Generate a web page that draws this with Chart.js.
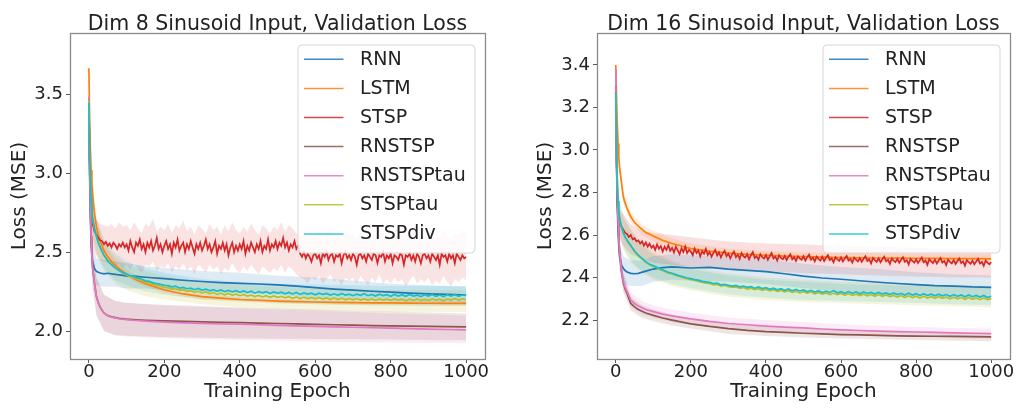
<!DOCTYPE html>
<html><head><meta charset="utf-8">
<script src="https://cdn.jsdelivr.net/npm/chart.js@4/dist/chart.umd.min.js"></script>
<style>
html,body{margin:0;padding:0;background:#fff;}
#wrap{position:relative;width:1017px;height:408px;overflow:hidden;}
.pane{position:absolute;top:0;height:408px;}
</style>
</head><body>
<div id="wrap">
<div class="pane" style="left:0;width:508px"><canvas id="c1" width="508" height="408"></canvas></div>
<div class="pane" style="left:508px;width:509px"><canvas id="c2" width="509" height="408"></canvas></div>
</div>
<script>
// ---------------- shared ----------------
const seriesNames = ['RNN','LSTM','STSP','RNSTSP','RNSTSPtau','STSPtau','STSPdiv'];
const seriesColors = ['31,119,180','255,127,14','214,39,40','140,86,75','227,119,194','188,189,34','23,190,207'];
const xTicks = [0,200,400,600,800,1000];
const yTicks8 = [2.0,2.5,3.0,3.5];
const yTicks16 = [2.2,2.4,2.6,2.8,3.0,3.2,3.4];

const epochsCoarse = [0,2,4,6,8,10,15,20,25,30,40,50,60,80,100,125,150,200,250,300,350,400,450,500,550,600,650,700,750,800,850,900,950,1000];
const epochsFine = [0,2,4,6,8,10,15,20,25,30,40,50,60,70,80,90,100,110,120,130,140,150,160,170,180,190,200,210,220,230,240,250,260,270,280,290,300,310,320,330,340,350,360,370,380,390,400,410,420,430,440,450,460,470,480,490,500,510,520,530,540,550,560,570,580,590,600,610,620,630,640,650,660,670,680,690,700,710,720,730,740,750,760,770,780,790,800,810,820,830,840,850,860,870,880,890,900,910,920,930,940,950,960,970,980,990,1000];
const epochsDense = [0,2,4,6,8,10,15,20,25,30,35,40,45,50,55,60,65,70,75,80,85,90,95,
100,105,110,115,120,125,130,135,140,145,150,155,160,165,170,175,180,185,190,195,
200,205,210,215,220,225,230,235,240,245,250,255,260,265,270,275,280,285,290,295,
300,305,310,315,320,325,330,335,340,345,350,355,360,365,370,375,380,385,390,395,
400,405,410,415,420,425,430,435,440,445,450,455,460,465,470,475,480,485,490,495,
500,505,510,515,520,525,530,535,540,545,550,555,560,565,570,575,580,585,590,595,
600,605,610,615,620,625,630,635,640,645,650,655,660,665,670,675,680,685,690,695,
700,705,710,715,720,725,730,735,740,745,750,755,760,765,770,775,780,785,790,795,
800,805,810,815,820,825,830,835,840,845,850,855,860,865,870,875,880,885,890,895,
900,905,910,915,920,925,930,935,940,945,950,955,960,965,970,975,980,985,990,995,1000];
const bandEpochs = [0,2,5,10,20,40,70,100,150,200,300,400,500,600,700,800,900,1000];

// ---------------- Dim 8 ----------------
const d8_RNN = [3.45,2.98,2.72,2.57,2.48,2.44,2.395,2.378,2.372,2.368,2.362,2.366,2.362,2.356,2.35,2.346,2.341,2.332,2.322,2.314,2.307,2.302,2.298,2.292,2.284,2.275,2.266,2.259,2.252,2.246,2.240,2.236,2.232,2.228];
const d8_LSTM = [3.665,3.35,3.15,3.02,2.93,2.87,2.74,2.66,2.61,2.57,2.51,2.47,2.44,2.395,2.36,2.325,2.30,2.26,2.235,2.218,2.208,2.20,2.195,2.19,2.187,2.184,2.182,2.18,2.179,2.178,2.177,2.176,2.175,2.175];
const d8_STSP = [3.47,3.1,2.9,2.78,2.72,2.68,2.63,2.61,
 2.59,2.575,2.57,2.55,2.565,2.54,2.555,2.53,2.56,2.545,2.52,2.55,2.535,2.56,2.53,
 2.55,2.51,2.57,2.53,2.50,2.56,2.54,2.58,2.52,2.55,
 2.50,2.56,2.53,2.57,2.51,2.54,2.59,2.52,2.55,2.50,
 2.54,2.57,2.52,2.55,2.49,2.56,2.53,2.58,2.51,2.54,
 2.56,2.50,2.55,2.52,2.57,2.53,2.49,2.55,2.52,2.56,
 2.51,2.54,2.58,2.52,2.55,2.50,2.53,2.57,2.49,2.54,
 2.52,2.56,2.51,2.55,2.48,2.53,2.56,2.50,2.54,2.51,
 2.55,2.52,2.57,2.49,2.54,2.51,2.56,2.53,2.50,2.55,
 2.52,2.57,2.50,2.54,2.52,2.58,2.51,2.55,2.53,2.57,
 2.52,2.56,2.54,2.59,2.53,2.56,2.51,2.55,2.53,2.57,
 2.52,2.54,2.49,2.47,2.50,2.46,2.49,2.47,2.44,2.48,
 2.49,2.46,2.48,2.43,2.49,2.47,2.50,2.45,2.48,2.49,
 2.44,2.48,2.47,2.49,2.43,2.48,2.50,2.46,2.48,2.45,
 2.49,2.47,2.42,2.48,2.49,2.46,2.48,2.44,2.49,2.47,
 2.45,2.49,2.48,2.43,2.48,2.47,2.50,2.44,2.48,2.46,
 2.49,2.43,2.48,2.47,2.45,2.49,2.48,2.42,2.48,2.47,
 2.49,2.45,2.48,2.44,2.49,2.47,2.43,2.48,2.49,2.46,
 2.48,2.44,2.49,2.47,2.45,2.48,2.42,2.49,2.47,2.48,
 2.44,2.49,2.46,2.48,2.43,2.49,2.47,2.45,2.48,2.46,
 2.47];
const d8_RNSTSP = [3.46,3.05,2.78,2.6,2.48,2.40,2.30,2.22,2.18,2.15,2.115,2.098,2.09,2.08,2.075,2.071,2.068,2.064,2.061,2.058,2.055,2.053,2.05,2.048,2.045,2.042,2.04,2.038,2.035,2.033,2.031,2.03,2.028,2.026];
const d8_RNSTSPtau = [3.485,3.05,2.78,2.6,2.48,2.40,2.30,2.22,2.18,2.15,2.115,2.097,2.088,2.078,2.072,2.067,2.063,2.057,2.052,2.049,2.046,2.044,2.04,2.036,2.033,2.03,2.027,2.024,2.021,2.018,2.015,2.012,2.01,2.008];
const d8_STSPtau = [3.46,3.15,2.96,2.84,2.76,2.71,2.65,2.6,2.56,2.53,2.48,2.445,2.42,2.40,2.383,2.367,
 2.356,2.345,2.338,2.328,2.32,2.31,2.305,2.296,2.29,2.284,
 2.278,2.275,2.266,2.27,2.258,2.262,2.252,2.256,2.246,2.252,
 2.242,2.248,2.238,2.244,2.232,2.24,2.23,2.238,2.228,2.234,
 2.224,2.232,2.222,2.228,2.218,2.226,2.216,2.224,2.214,2.222,
 2.214,2.22,2.21,2.218,2.208,2.216,2.206,2.214,2.206,2.212,
 2.204,2.212,2.202,2.21,2.2,2.21,2.2,2.208,2.198,2.206,
 2.198,2.206,2.196,2.204,2.196,2.204,2.194,2.204,2.196,2.202,
 2.194,2.204,2.196,2.202,2.192,2.202,2.194,2.204,2.194,2.2,
 2.194,2.204,2.196,2.202,2.192,2.204,2.196,2.206,2.196,2.204,
 2.2];
const d8_STSPdiv = [3.445,3.15,2.96,2.84,2.76,2.71,2.65,2.6,2.56,2.53,2.48,2.445,2.42,2.40,2.385,2.37,
 2.362,2.35,2.345,2.335,2.33,2.318,2.315,2.305,2.30,2.296,
 2.29,2.288,2.28,2.285,2.272,2.276,2.268,2.272,2.262,2.27,
 2.26,2.266,2.255,2.262,2.252,2.26,2.25,2.258,2.248,2.256,
 2.246,2.254,2.244,2.252,2.24,2.25,2.242,2.25,2.238,2.248,
 2.24,2.246,2.236,2.245,2.235,2.244,2.232,2.242,2.234,2.24,
 2.23,2.24,2.232,2.238,2.228,2.236,2.226,2.238,2.228,2.234,
 2.224,2.234,2.226,2.236,2.224,2.232,2.222,2.234,2.224,2.23,
 2.22,2.232,2.222,2.23,2.22,2.232,2.222,2.228,2.218,2.23,
 2.222,2.232,2.22,2.228,2.218,2.23,2.222,2.232,2.22,2.228,
 2.226];
// bands (lower / upper)
const d8_RNN_lo = [3.3,2.85,2.55,2.35,2.29,2.28,2.28,2.27,2.27,2.26,2.25,2.24,2.23,2.21,2.2,2.19,2.18,2.18];
const d8_RNN_hi = [3.6,3.15,2.8,2.55,2.46,2.45,2.44,2.43,2.41,2.4,2.38,2.37,2.35,2.34,2.32,2.3,2.29,2.28];
const d8_LSTM_lo = [3.55,3.25,3.0,2.8,2.62,2.48,2.39,2.34,2.28,2.24,2.2,2.185,2.175,2.17,2.165,2.163,2.16,2.16];
const d8_LSTM_hi = [3.78,3.45,3.17,2.95,2.72,2.55,2.45,2.39,2.32,2.28,2.24,2.215,2.205,2.2,2.195,2.193,2.19,2.19];
const d8_STSP_lo = [3.2,2.9,2.75,2.65,2.58,2.54,2.5,2.48,2.46,2.45,2.44,2.43,2.42,2.41,2.43,2.40,
 2.42,2.39,2.43,2.40,2.37,2.42,2.41,2.44,2.38,2.41,
 2.40,2.43,2.37,2.41,2.39,2.43,2.38,2.41,2.36,2.42,
 2.40,2.37,2.42,2.39,2.41,2.36,2.40,2.38,2.43,2.39,
 2.37,2.41,2.38,2.42,2.39,2.36,2.41,2.39,2.37,2.40,
 2.38,2.42,2.37,2.41,2.39,2.36,2.34,2.33,2.30,2.34,
 2.32,2.35,2.30,2.33,2.36,2.31,2.33,2.29,2.34,2.32,
 2.34,2.30,2.35,2.32,2.29,2.34,2.31,2.36,2.30,2.33,
 2.30,2.34,2.31,2.33,2.28,2.32,2.35,2.30,2.33,2.31,
 2.34,2.29,2.32,2.30,2.35,2.31,2.28,2.33,2.31,2.34,
 2.32];
const d8_STSP_hi = [3.8,3.3,3.05,2.92,2.85,2.8,2.74,2.7,2.69,2.68,2.67,2.66,2.68,2.65,2.69,2.66,
 2.67,2.64,2.69,2.65,2.62,2.68,2.66,2.71,2.63,2.66,
 2.64,2.68,2.62,2.67,2.65,2.70,2.63,2.66,2.61,2.67,
 2.65,2.62,2.68,2.64,2.66,2.61,2.67,2.63,2.69,2.64,
 2.62,2.66,2.63,2.68,2.64,2.61,2.67,2.65,2.62,2.66,
 2.64,2.69,2.63,2.67,2.65,2.62,2.60,2.63,2.59,2.62,
 2.60,2.64,2.58,2.62,2.65,2.59,2.61,2.57,2.63,2.60,
 2.62,2.58,2.64,2.60,2.57,2.62,2.60,2.65,2.59,2.61,
 2.58,2.63,2.60,2.62,2.57,2.61,2.64,2.59,2.62,2.60,
 2.63,2.58,2.61,2.59,2.64,2.60,2.57,2.62,2.60,2.63,
 2.61];
const d8_RNSTSP_lo = [3.3,2.9,2.5,2.28,2.1,2.0,1.975,1.97,1.965,1.962,1.958,1.955,1.952,1.95,1.948,1.946,1.944,1.942];
const d8_RNSTSP_hi = [3.6,3.2,2.88,2.52,2.34,2.23,2.19,2.18,2.172,2.166,2.158,2.15,2.143,2.136,2.13,2.124,2.118,2.112];
const d8_RNSTSPtau_lo = [3.33,2.9,2.5,2.28,2.1,2.0,1.972,1.966,1.96,1.955,1.948,1.943,1.938,1.934,1.93,1.927,1.924,1.922];
const d8_RNSTSPtau_hi = [3.62,3.2,2.88,2.52,2.34,2.23,2.19,2.178,2.17,2.162,2.152,2.144,2.136,2.128,2.12,2.112,2.105,2.098];
const d8_STSPtau_lo = [3.3,2.98,2.72,2.58,2.48,2.38,2.3,2.26,2.22,2.2,2.17,2.15,2.14,2.13,2.13,2.12,2.12,2.12];
const d8_STSPtau_hi = [3.6,3.3,3.0,2.8,2.7,2.56,2.47,2.42,2.38,2.35,2.31,2.29,2.28,2.27,2.27,2.26,2.26,2.26];
const d8_STSPdiv_lo = [3.3,2.98,2.72,2.6,2.5,2.4,2.32,2.29,2.25,2.23,2.2,2.19,2.18,2.17,2.165,2.16,2.16,2.16];
const d8_STSPdiv_hi = [3.6,3.3,3.0,2.82,2.72,2.58,2.49,2.44,2.4,2.37,2.33,2.31,2.3,2.295,2.29,2.285,2.285,2.285];

// ---------------- Dim 16 ----------------
const d16_RNN = [3.27,2.95,2.74,2.62,2.55,2.50,2.46,2.443,2.433,2.426,2.42,2.418,2.42,2.43,2.44,2.447,2.45,2.445,2.448,2.44,2.434,2.428,2.418,2.407,2.398,2.392,2.385,2.378,2.372,2.367,2.362,2.36,2.356,2.354];
const d16_LSTM = [3.40,3.25,3.12,3.03,2.97,2.92,2.85,2.78,2.75,2.725,2.686,2.66,2.642,2.612,2.595,2.575,2.56,2.536,2.524,2.515,2.509,2.505,2.501,2.498,2.496,2.494,2.493,2.492,2.491,2.49,2.49,2.489,2.489,2.488];
const d16_STSP = [3.3,2.95,2.76,2.7,2.67,2.655,2.64,2.625,
 2.61,2.605,2.59,2.6,2.58,2.585,2.57,2.575,2.56,2.57,2.55,2.565,2.545,2.56,2.54,
 2.55,2.53,2.556,2.535,2.548,2.522,2.545,2.53,2.552,2.526,
 2.54,2.518,2.545,2.528,2.51,2.538,2.52,2.546,2.515,2.53,
 2.522,2.505,2.536,2.515,2.528,2.5,2.524,2.512,2.535,2.506,
 2.52,2.498,2.516,2.53,2.504,2.518,2.495,2.514,2.526,2.5,
 2.512,2.49,2.51,2.522,2.496,2.508,2.488,2.515,2.5,2.494,
 2.51,2.486,2.505,2.52,2.492,2.5,2.484,2.51,2.496,2.49,
 2.506,2.484,2.5,2.515,2.49,2.498,2.48,2.505,2.492,2.486,
 2.502,2.482,2.498,2.51,2.486,2.496,2.478,2.5,2.49,2.484,
 2.5,2.48,2.496,2.508,2.484,2.494,2.476,2.498,2.488,2.48,
 2.498,2.478,2.494,2.505,2.482,2.49,2.472,2.496,2.486,2.478,
 2.495,2.476,2.49,2.502,2.48,2.488,2.47,2.494,2.484,2.476,
 2.492,2.474,2.488,2.5,2.478,2.486,2.466,2.492,2.482,2.474,
 2.49,2.472,2.486,2.498,2.476,2.484,2.464,2.49,2.48,2.472,
 2.488,2.47,2.484,2.496,2.474,2.482,2.462,2.488,2.478,2.47,
 2.486,2.468,2.482,2.494,2.472,2.48,2.46,2.486,2.476,2.468,
 2.484,2.466,2.48,2.492,2.47,2.478,2.458,2.484,2.474,2.466,
 2.482,2.464,2.478,2.49,2.468,2.476,2.456,2.482,2.472,2.464,
 2.48,2.462,2.476,2.488,2.466,2.474,2.455,2.48,2.47,2.462,
 2.472];
const d16_RNSTSP = [3.27,2.98,2.78,2.66,2.58,2.52,2.43,2.375,2.345,2.325,2.278,2.262,2.25,2.233,2.222,2.21,2.2,2.182,2.17,2.16,2.152,2.146,2.142,2.138,2.135,2.132,2.13,2.128,2.126,2.125,2.124,2.123,2.122,2.121];
const d16_RNSTSPtau = [3.38,3.0,2.79,2.67,2.59,2.53,2.44,2.385,2.355,2.335,2.294,2.278,2.266,2.25,2.24,2.228,2.22,2.206,2.194,2.184,2.178,2.172,2.167,2.163,2.158,2.154,2.151,2.148,2.146,2.144,2.142,2.14,2.138,2.136];
const d16_STSPtau = [3.27,3.0,2.85,2.76,2.71,2.68,2.64,2.61,2.59,2.575,2.55,2.522,2.502,2.487,2.472,2.46,
 2.452,2.446,2.436,2.43,2.42,2.417,2.41,2.405,2.398,2.395,
 2.39,2.386,2.382,2.378,2.374,2.372,2.366,2.368,2.36,2.364,
 2.357,2.355,2.356,2.35,2.353,2.346,2.35,2.343,2.348,2.34,
 2.345,2.338,2.343,2.335,2.34,2.333,2.338,2.33,2.336,2.328,
 2.334,2.327,2.332,2.324,2.33,2.322,2.328,2.32,2.326,2.32,
 2.325,2.318,2.324,2.316,2.322,2.315,2.322,2.314,2.32,2.312,
 2.32,2.312,2.318,2.31,2.316,2.308,2.316,2.306,2.314,2.306,
 2.312,2.304,2.312,2.304,2.31,2.302,2.31,2.302,2.308,2.3,
 2.308,2.3,2.306,2.298,2.306,2.298,2.304,2.296,2.304,2.296,
 2.3];
const d16_STSPdiv = [3.27,3.0,2.85,2.76,2.71,2.68,2.64,2.61,2.59,2.575,2.55,2.525,2.505,2.49,2.475,2.462,
 2.455,2.448,2.44,2.432,2.425,2.42,2.414,2.408,2.404,2.398,
 2.395,2.39,2.388,2.382,2.38,2.377,2.372,2.374,2.366,2.368,
 2.364,2.36,2.363,2.356,2.36,2.354,2.357,2.35,2.356,2.348,
 2.352,2.345,2.35,2.342,2.348,2.34,2.346,2.338,2.344,2.337,
 2.342,2.334,2.34,2.332,2.338,2.33,2.336,2.33,2.338,2.328,
 2.334,2.326,2.334,2.326,2.332,2.324,2.332,2.325,2.33,2.322,
 2.33,2.322,2.328,2.32,2.328,2.32,2.326,2.318,2.326,2.318,
 2.324,2.316,2.324,2.316,2.322,2.314,2.322,2.314,2.32,2.312,
 2.32,2.312,2.318,2.31,2.318,2.31,2.316,2.308,2.316,2.306,
 2.312];
const d16_RNN_lo = [3.2,2.88,2.62,2.44,2.37,2.36,2.36,2.38,2.39,2.385,2.38,2.37,2.35,2.335,2.32,2.31,2.305,2.3];
const d16_RNN_hi = [3.35,3.02,2.76,2.57,2.5,2.48,2.48,2.5,2.51,2.505,2.495,2.485,2.465,2.45,2.44,2.425,2.415,2.41];
const d16_LSTM_lo = [3.35,3.2,3.03,2.88,2.75,2.66,2.6,2.57,2.535,2.515,2.495,2.485,2.48,2.476,2.474,2.472,2.47,2.47];
const d16_LSTM_hi = [3.48,3.3,3.13,2.96,2.81,2.71,2.65,2.62,2.585,2.56,2.535,2.525,2.518,2.514,2.512,2.51,2.508,2.508];
const d16_STSP_lo = [3.2,2.85,2.64,2.58,2.55,2.51,2.49,2.47,2.46,2.45,2.44,2.43,2.42,2.415,2.41,2.405,2.4,2.4];
const d16_STSP_hi = [3.45,3.05,2.82,2.72,2.7,2.65,2.62,2.61,2.6,2.59,2.57,2.56,2.555,2.55,2.545,2.54,2.54,2.535];
const d16_RNSTSP_lo = [3.2,2.9,2.66,2.46,2.33,2.245,2.21,2.195,2.175,2.16,2.135,2.125,2.118,2.113,2.11,2.106,2.103,2.1];
const d16_RNSTSP_hi = [3.33,3.05,2.8,2.58,2.42,2.31,2.27,2.25,2.225,2.205,2.18,2.17,2.16,2.153,2.15,2.146,2.143,2.14];
const d16_RNSTSPtau_lo = [3.3,2.92,2.68,2.47,2.34,2.26,2.225,2.21,2.19,2.178,2.158,2.148,2.138,2.13,2.125,2.12,2.115,2.112];
const d16_RNSTSPtau_hi = [3.46,3.08,2.82,2.59,2.43,2.33,2.29,2.27,2.25,2.234,2.212,2.2,2.19,2.18,2.173,2.168,2.163,2.16];
const d16_STSPtau_lo = [3.2,2.93,2.74,2.6,2.53,2.47,2.42,2.39,2.36,2.34,2.31,2.295,2.285,2.28,2.275,2.27,2.265,2.26];
const d16_STSPtau_hi = [3.34,3.07,2.9,2.76,2.69,2.63,2.56,2.52,2.48,2.45,2.42,2.4,2.39,2.38,2.375,2.37,2.365,2.36];
const d16_STSPdiv_lo = [3.2,2.93,2.74,2.61,2.54,2.48,2.43,2.4,2.37,2.35,2.32,2.305,2.295,2.29,2.285,2.28,2.275,2.27];
const d16_STSPdiv_hi = [3.34,3.07,2.9,2.75,2.68,2.62,2.55,2.51,2.47,2.44,2.41,2.39,2.38,2.37,2.365,2.36,2.355,2.35];

// ---------------- build ----------------
const FONT = '"DejaVu Sans", "Liberation Sans", sans-serif';
const TXT = '#222222';
function pts(xs, ys){ const out=[]; for(let i=0;i<xs.length && i<ys.length;i++) out.push({x:xs[i], y:ys[i]}); return out; }

function buildDatasets(lines, xs, bands, bandAlpha){
  const ds = [];
  bands.forEach((b,i)=>{
    ds.push({data: pts(b[0], b[1]), borderWidth:0, pointRadius:0, fill:false, order:100+i});
    ds.push({data: pts(b[0], b[2]), borderWidth:0, pointRadius:0, fill:'-1',
      backgroundColor:`rgba(${seriesColors[i]},${bandAlpha[i]})`, order:100+i});
  });
  lines.forEach((l,i)=>{
    ds.push({label: seriesNames[i], data: pts(xs[i], l), borderColor:`rgb(${seriesColors[i]})`,
      borderWidth:1.7, pointRadius:0, fill:false, tension:0, order:7-i});
  });
  return ds;
}

const framePlugin = {
  id:'frame',
  afterDatasetsDraw(chart){
    const {ctx, chartArea:a} = chart;
    ctx.save();
    ctx.strokeStyle = '#8a8a8a'; ctx.lineWidth = 1.3;
    ctx.strokeRect(Math.round(a.left)+0.5, Math.round(a.top)+0.5, Math.round(a.right-a.left), Math.round(a.bottom-a.top));
    ctx.restore();
  }
};
const titleLegendPlugin = {
  id:'titleLegend',
  afterDraw(chart){
    const {ctx, chartArea:a} = chart;
    const o = chart.options.plugins.titleLegend;
    ctx.save();
    ctx.fillStyle = TXT;
    ctx.font = '20.5px ' + FONT;
    ctx.textAlign = 'center'; ctx.textBaseline = 'alphabetic';
    ctx.fillText(o.title, (a.left+a.right)/2, 30);
    const w = 177, h = 208, x0 = a.right - 10 - w, y0 = a.top + 12, r = 4;
    ctx.beginPath();
    ctx.moveTo(x0+r, y0); ctx.lineTo(x0+w-r, y0); ctx.quadraticCurveTo(x0+w, y0, x0+w, y0+r);
    ctx.lineTo(x0+w, y0+h-r); ctx.quadraticCurveTo(x0+w, y0+h, x0+w-r, y0+h);
    ctx.lineTo(x0+r, y0+h); ctx.quadraticCurveTo(x0, y0+h, x0, y0+h-r);
    ctx.lineTo(x0, y0+r); ctx.quadraticCurveTo(x0, y0, x0+r, y0);
    ctx.closePath();
    ctx.fillStyle = 'rgba(255,255,255,0.8)'; ctx.fill();
    ctx.strokeStyle = '#d6d6d6'; ctx.lineWidth = 1; ctx.stroke();
    ctx.font = '19px ' + FONT; ctx.textAlign = 'left'; ctx.textBaseline = 'middle';
    seriesNames.forEach((n,i)=>{
      const y = y0 + 14.3 + i*29.1;
      ctx.strokeStyle = `rgba(${seriesColors[i]},0.85)`; ctx.lineWidth = 1.5;
      ctx.beginPath(); ctx.moveTo(x0+6, y); ctx.lineTo(x0+45.5, y); ctx.stroke();
      ctx.fillStyle = TXT; ctx.fillText(n, x0+62, y+0.5);
    });
    ctx.restore();
  }
};

function makeChart(id, cfg){
  return new Chart(document.getElementById(id), {
    type:'line',
    data:{datasets: buildDatasets(cfg.lines, cfg.xs, cfg.bands, cfg.bandAlpha)},
    options:{
      responsive:false, animation:false, devicePixelRatio:1,
      layout:{padding:{left:0, right:cfg.padRight, top:33, bottom:0}},
      plugins:{legend:{display:false}, tooltip:{enabled:false}, title:{display:false},
        titleLegend:{title:cfg.title}},
      scales:{
        x:{type:'linear', min:-50, max:1050,
          afterBuildTicks:s=>{ s.ticks = xTicks.map(v=>({value:v})); },
          afterFit:s=>{ s.height = 49; },
          ticks:{autoSkip:false, maxRotation:0, color:TXT, padding:0,
            font:{family:FONT, size:18, lineHeight:1}, callback:v=>String(v)},
          grid:{display:true, drawOnChartArea:false, drawTicks:true, tickLength:4, color:'#555'},
          border:{display:false},
          title:{display:true, text:'Training Epoch', color:TXT, font:{family:FONT, size:20}, padding:{top:0,bottom:4}}
        },
        y:{type:'linear', min:cfg.ymin, max:cfg.ymax,
          afterBuildTicks:s=>{ s.ticks = cfg.yTicks.map(v=>({value:v})); },
          afterFit:s=>{ s.width = cfg.yWidth; },
          ticks:{autoSkip:false, color:TXT, padding:3, font:{family:FONT, size:18},
            callback:v=>Number(v).toFixed(1)},
          grid:{display:true, drawOnChartArea:false, drawTicks:true, tickLength:4, color:'#555'},
          border:{display:false},
          title:{display:true, text:'Loss (MSE)', color:TXT, font:{family:FONT, size:20}, padding:{top:cfg.yTitlePad, bottom:0}}
        }
      }
    },
    plugins:[framePlugin, titleLegendPlugin]
  });
}

makeChart('c1', {
  title:'Dim 8 Sinusoid Input, Validation Loss',
  lines:[d8_RNN, d8_LSTM, d8_STSP, d8_RNSTSP, d8_RNSTSPtau, d8_STSPtau, d8_STSPdiv],
  xs:[epochsCoarse, epochsCoarse, epochsDense, epochsCoarse, epochsCoarse, epochsFine, epochsFine],
  bands:[[bandEpochs,d8_RNN_lo,d8_RNN_hi],[bandEpochs,d8_LSTM_lo,d8_LSTM_hi],[epochsFine,d8_STSP_lo,d8_STSP_hi],
         [bandEpochs,d8_RNSTSP_lo,d8_RNSTSP_hi],[bandEpochs,d8_RNSTSPtau_lo,d8_RNSTSPtau_hi],
         [bandEpochs,d8_STSPtau_lo,d8_STSPtau_hi],[bandEpochs,d8_STSPdiv_lo,d8_STSPdiv_hi]],
  bandAlpha:[0.15,0.15,0.13,0.15,0.15,0.15,0.15],
  ymin:1.823, ymax:3.888, yTicks:yTicks8, yWidth:70, yTitlePad:8, padRight:23
});
makeChart('c2', {
  title:'Dim 16 Sinusoid Input, Validation Loss',
  lines:[d16_RNN, d16_LSTM, d16_STSP, d16_RNSTSP, d16_RNSTSPtau, d16_STSPtau, d16_STSPdiv],
  xs:[epochsCoarse, epochsCoarse, epochsDense, epochsCoarse, epochsCoarse, epochsFine, epochsFine],
  bands:[[bandEpochs,d16_RNN_lo,d16_RNN_hi],[bandEpochs,d16_LSTM_lo,d16_LSTM_hi],[bandEpochs,d16_STSP_lo,d16_STSP_hi],
         [bandEpochs,d16_RNSTSP_lo,d16_RNSTSP_hi],[bandEpochs,d16_RNSTSPtau_lo,d16_RNSTSPtau_hi],
         [bandEpochs,d16_STSPtau_lo,d16_STSPtau_hi],[bandEpochs,d16_STSPdiv_lo,d16_STSPdiv_hi]],
  bandAlpha:[0.15,0.15,0.15,0.15,0.15,0.15,0.15],
  ymin:2.017, ymax:3.55, yTicks:yTicks16, yWidth:89, yTitlePad:26, padRight:7
});
</script>
</body></html>
